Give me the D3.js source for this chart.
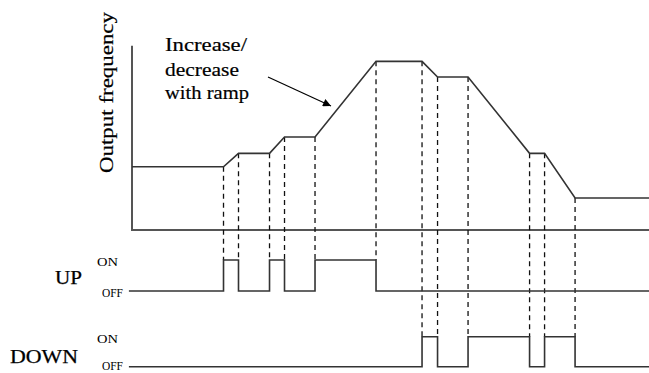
<!DOCTYPE html>
<html>
<head>
<meta charset="utf-8">
<script src="https://cdn.jsdelivr.net/npm/d3@7"></script>
<style>
  html, body { margin: 0; padding: 0; background: #fff; }
  svg { display: block; }
</style>
</head>
<body>
<svg id="chart" width="649" height="373"></svg>
<script>
// ---- data ----
// event times (arbitrary time units 0..100)
const eventTimes = [17.7, 20.6, 26.6, 29.5, 35.4, 47.2, 56.1, 59.1, 65.0, 76.9, 79.8, 85.7];
// which signal each event belongs to
const eventSignal = ["UP","UP","UP","UP","UP","UP","DOWN","DOWN","DOWN","DOWN","DOWN","DOWN"];
// output frequency profile (time, level 0..100)
const freqTimes  = [0, 17.7, 20.6, 26.6, 29.5, 35.4, 47.2, 56.1, 59.1, 65.0, 76.9, 79.8, 85.7, 100];
const freqValues = [34.3, 34.3, 41.6, 41.6, 50.5, 50.5, 91.5, 91.5, 83.0, 83.0, 41.6, 41.6, 17.4, 17.4];
// ON intervals for the two inputs
const upOn   = [[17.7, 20.6], [26.6, 29.5], [35.4, 47.2]];
const downOn = [[56.1, 59.1], [65.0, 76.9], [79.8, 85.7]];
const signalNames = ["UP", "DOWN"];
const stateLabels = ["ON", "OFF"];
const axisLabel = "Output frequency";
const annotation = ["Increase/", "decrease", "with ramp"];

const FONT = "'Liberation Serif', 'Times New Roman', Times, serif";

// ---- scales ----
const svg = d3.select("#chart").attr("font-family", FONT);
const x = d3.scaleLinear().domain([0, 100]).range([132, 649]);
const yF = d3.scaleLinear().domain([0, 100]).range([230, 45.7]);
const ySig = {
  UP:   d3.scaleOrdinal().domain(["ON", "OFF"]).range([260, 291]),
  DOWN: d3.scaleOrdinal().domain(["ON", "OFF"]).range([336.7, 366.7])
};
const tStart = -0.6, tEnd = 100;

// ---- frequency axes ----
svg.append("line").attr("x1", x(0)).attr("x2", x(0)).attr("y1", yF(100)).attr("y2", yF(0))
  .attr("stroke", "#555").attr("stroke-width", 2);
svg.append("line").attr("x1", x(0) - 1).attr("x2", x(100)).attr("y1", yF(0)).attr("y2", yF(0))
  .attr("stroke", "#555").attr("stroke-width", 2);

// ---- dashed guides ----
const freqAt = t => {
  const i = freqTimes.findIndex(v => Math.abs(v - t) < 1e-6);
  return freqValues[i];
};
svg.append("g").selectAll("line").data(eventTimes).join("line")
  .attr("x1", d => x(d)).attr("x2", d => x(d))
  .attr("y1", d => yF(freqAt(d)))
  .attr("y2", (d, i) => ySig[eventSignal[i]]("ON"))
  .attr("stroke", "#111").attr("stroke-width", 1.3)
  .attr("stroke-dasharray", "5,4");

// ---- frequency curve ----
const freqData = freqTimes.map((t, i) => [t, freqValues[i]]);
svg.append("path").datum(freqData)
  .attr("d", d3.line().x(d => x(d[0])).y(d => yF(d[1])))
  .attr("fill", "none").attr("stroke", "#333").attr("stroke-width", 1.6);

// ---- signals ----
function stepPoints(intervals) {
  const pts = [[tStart, "OFF"]];
  intervals.forEach(([a, b]) => {
    pts.push([a, "OFF"], [a, "ON"], [b, "ON"], [b, "OFF"]);
  });
  pts.push([tEnd, "OFF"]);
  return pts;
}
const sigData = { UP: stepPoints(upOn), DOWN: stepPoints(downOn) };
signalNames.forEach(name => {
  svg.append("path").datum(sigData[name])
    .attr("d", d3.line().x(d => x(d[0])).y(d => ySig[name](d[1])))
    .attr("fill", "none").attr("stroke", "#333").attr("stroke-width", 1.6);
});

// ---- labels ----
function txt(sel, sw) {
  sel.attr("font-family", FONT).attr("fill", "#000")
    .attr("lengthAdjust", "spacingAndGlyphs");
  if (sw > 0) sel.attr("stroke", "#000").attr("stroke-width", sw);
  return sel;
}
txt(svg.append("text"), 0.2)
  .attr("transform", "translate(113,173) rotate(-90)")
  .attr("font-size", 19)
  .attr("textLength", 161)
  .text(axisLabel);

const annY = [51, 75.5, 99];
const annW = [82, 74, 84];
annotation.forEach((s, i) => {
  txt(svg.append("text"), 0.2).attr("x", 165).attr("y", annY[i]).attr("font-size", 19)
    .attr("textLength", annW[i]).text(s);
});

// arrow
svg.append("defs").append("marker")
  .attr("id", "ah").attr("viewBox", "0 0 10 10").attr("refX", 10).attr("refY", 5)
  .attr("markerWidth", 11).attr("markerHeight", 8).attr("markerUnits", "userSpaceOnUse")
  .attr("orient", "auto")
  .append("path").attr("d", "M0,0 L10,5 L0,10 Z").attr("fill", "#000");
svg.append("line").attr("x1", 268).attr("y1", 77).attr("x2", 331).attr("y2", 106)
  .attr("stroke", "#000").attr("stroke-width", 1.2).attr("marker-end", "url(#ah)");

// signal names
const nameX = { UP: 55, DOWN: 10 };
const nameW = { UP: 27, DOWN: 68 };
const nameBase = { UP: 283.5, DOWN: 363.3 };
const onOff = { UP: [5.7, 5.7], DOWN: [6.6, 3.6] };
signalNames.forEach(name => {
  txt(svg.append("text"), 0.25).attr("x", nameX[name]).attr("y", nameBase[name]).attr("font-size", 18)
    .attr("textLength", nameW[name]).text(name);
  const on = ySig[name]("ON"), off = ySig[name]("OFF");
  txt(svg.append("text"), 0).attr("x", 97).attr("y", on + onOff[name][0]).attr("font-size", 11.5)
    .attr("textLength", 21).text(stateLabels[0]);
  txt(svg.append("text"), 0).attr("x", 102).attr("y", off + onOff[name][1]).attr("font-size", 11.5)
    .attr("textLength", 21).text(stateLabels[1]);
});
</script>
</body>
</html>
